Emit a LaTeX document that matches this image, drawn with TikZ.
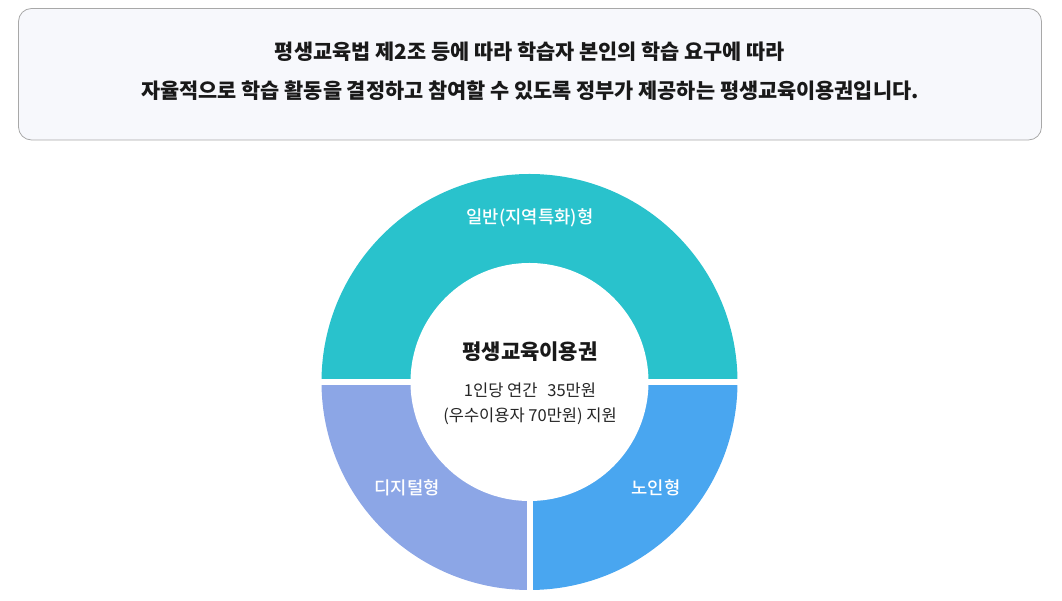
\documentclass[tikz,border=0pt]{standalone}
\usepackage{fontspec}
\setmainfont{Noto Sans CJK KR}
\newfontfamily\krmed{Noto Sans CJK KR Medium}
\usepackage{xcolor}
\usepackage{tikz}
\usetikzlibrary{calc}

\definecolor{boxfill}{RGB}{247,248,252}
\definecolor{boxline}{RGB}{168,168,168}
\definecolor{ilban}{RGB}{41,194,204}
\definecolor{digital}{RGB}{140,166,230}
\definecolor{noin}{RGB}{73,166,240}

\tikzset{
  introtext/.style={font=\bfseries\fontsize{20.8}{24}\selectfont, text=black!90},
  parttext/.style={font=\krmed\fontsize{17.7}{21}\selectfont, text=white},
}

\begin{document}
\begin{tikzpicture}[x=1pt,y=1pt]

\useasboundingbox (0,0) rectangle (1062,601);

\draw[rounded corners=13pt, draw=boxline, fill=boxfill, line width=0.8pt] (18.5,461) rectangle (1041.5,592.5);

\node[introtext] (intro1) at (530,549) {평생교육법 제2조 등에 따라 학습자 본인의 학습 요구에 따라};
\node[introtext] (intro2) at (530,510) {자율적으로 학습 활동을 결정하고 참여할 수 있도록 정부가 제공하는 평생교육이용권입니다.};

\coordinate (c) at (529.5,219);

\fill[ilban] (c) -- ++(0:208) arc (0:180:208) -- cycle; % 일반
\fill[digital] (c) -- ++(180:208) arc (180:270:208) -- cycle; % 디지털
\fill[noin] (c) -- ++(270:208) arc (270:360:208) -- cycle; % 노인

\fill[white] (c) circle(119);
\draw[white, line width=6.5pt] ($(c)+(-212,0)$) -- ($(c)+(212,0)$);
\draw[white, line width=6pt] (c) -- ($(c)+(0,-212)$);

\node[parttext] (ilban) at (530,383) {일반(지역특화)형};
\node[parttext] (digital) at (407,113) {디지털형};
\node[parttext] (noin) at (656,113) {노인형};

\node[font=\bfseries\fontsize{21}{25}\selectfont, text=black!90] (title) at (530,249) {평생교육이용권};
\node[font=\fontsize{16.5}{20}\selectfont, text=black!85] (amount) at (530,211) {1인당 연간\hspace{0.6em}35만원};
\node[font=\fontsize{16.5}{20}\selectfont, text=black!85] (amount2) at (530,185) {(우수이용자 70만원) 지원};

\end{tikzpicture}
\end{document}
